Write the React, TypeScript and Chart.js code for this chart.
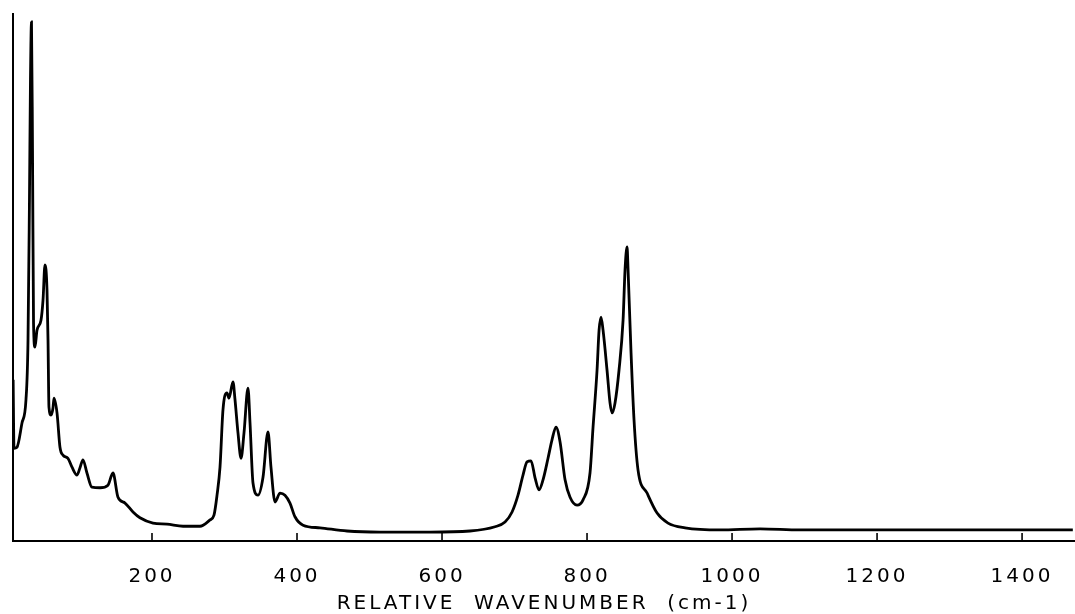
import React, { useEffect, useRef } from "react";
import { Chart, registerables } from "chart.js";

Chart.register(...registerables);

// Relative wavenumber (cm-1)
const wavenumbers = [
  8.5, 9.7, 13.8, 20.7, 26.2, 29.0, 31.0, 32.4, 33.8, 35.2, 36.6, 38.6, 41.4, 46.9, 49.7,
  52.4, 55.2, 56.6, 57.9, 60.7, 63.4, 64.8, 69.0, 73.1, 77.2, 84.1, 89.7, 96.6, 100.7,
  104.8, 110.3, 117.2, 128.3, 139.3, 146.2, 153.1, 162.8, 173.8, 183.4, 201.4, 220.7,
  242.8, 266.2, 280.0, 285.5, 289.7, 293.8, 297.9, 303.4, 306.2, 311.7, 314.5, 318.6,
  322.8, 326.9, 332.4, 335.2, 339.3, 346.2, 353.1, 360.0, 364.1, 369.7, 376.6, 383.4,
  390.3, 397.2, 408.3, 431.7, 469.0, 514.5, 583.4, 638.6, 673.1, 686.9, 696.6, 704.8,
  711.7, 717.2, 722.8, 728.3, 733.8, 739.3, 746.2, 751.7, 757.2, 762.8, 769.7, 776.6,
  786.2, 794.5, 804.1, 808.3, 813.8, 816.6, 819.3, 822.1, 827.6, 831.7, 834.5, 838.6,
  844.1, 849.7, 852.4, 855.2, 856.6, 860.7, 864.8, 870.3, 882.8, 896.6, 911.7, 935.2,
  983.4, 1038.6, 1093.8, 1231.7, 1369.7, 1470,
];

// Relative intensity (arbitrary units)
const intensities = [
  30.6, 17.6, 17.8, 22.4, 26.8, 38.1, 64.7, 87.5, 98.5, 74.2, 41.4, 36.8, 40.0, 41.9, 45.7,
  52.4, 47.6, 38.1, 25.4, 23.9, 25.2, 27.1, 24.3, 17.8, 16.3, 15.7, 14.0, 12.5, 13.9,
  15.4, 12.9, 10.2, 10.1, 10.6, 12.9, 8.3, 7.2, 5.5, 4.4, 3.4, 3.2,
  2.8, 2.8, 4.0, 4.9, 8.7, 14.0, 24.9, 28.1, 27.1, 30.2, 26.8, 20.5,
  15.7, 20.5, 29.0, 22.4, 11.0, 8.7, 12.1, 20.7, 14.0, 7.4, 9.1, 8.7,
  7.2, 4.6, 3.0, 2.5, 1.9, 1.7, 1.7, 1.9, 2.7, 3.6, 5.5, 8.7,
  12.5, 15.0, 15.2, 12.0, 9.7, 11.6, 15.7, 19.2, 21.6, 18.8, 11.6, 8.3,
  6.8, 7.8, 12.9, 21.6, 32.4, 40.0, 42.5, 40.0, 32.4, 26.2, 24.3, 26.2,
  32.4, 41.9, 51.4, 55.8, 51.4, 35.7, 23.0, 13.5, 9.1, 5.3, 3.4, 2.5,
  2.1, 2.3, 2.1, 2.1, 2.1, 2.1,
];

const tickValues = [200, 400, 600, 800, 1000, 1200, 1400];
const axisTitle = "RELATIVE  WAVENUMBER  (cm-1)";
const xMin = 8.3;
const xMax = 1473;
const yMin = 0;
const yMax = 100;

export default function App() {
  const canvasRef = useRef<HTMLCanvasElement>(null);

  useEffect(() => {
    if (!canvasRef.current) return;

    const letterSpacingPlugin = {
      id: "letterSpacing",
      beforeUpdate(chart: any) {
        chart.ctx.letterSpacing = "3px";
      },
      beforeDraw(chart: any) {
        chart.ctx.letterSpacing = "3px";
      },
    };

    const innerTicksPlugin = {
      id: "innerTicks",
      afterDatasetsDraw(chart: any) {
        const s = chart.scales.x;
        const ctx = chart.ctx;
        ctx.save();
        ctx.strokeStyle = "#000";
        ctx.lineWidth = 1.6;
        s.ticks.forEach((t: any) => {
          const px = s.getPixelForValue(t.value);
          ctx.beginPath();
          ctx.moveTo(px, s.top);
          ctx.lineTo(px, s.top - 8);
          ctx.stroke();
        });
        ctx.restore();
      },
    };

    const points = wavenumbers.map((w, i) => ({ x: w, y: intensities[i] }));

    const chart = new Chart(canvasRef.current, {
      type: "line",
      data: {
        datasets: [
          {
            data: points,
            borderColor: "#000",
            borderWidth: 2.8,
            pointRadius: 0,
            fill: false,
            cubicInterpolationMode: "monotone",
          },
        ],
      },
      options: {
        animation: false,
        responsive: true,
        maintainAspectRatio: false,
        layout: { padding: { left: 13, top: 14, right: 0, bottom: 0 } },
        plugins: {
          legend: { display: false },
          tooltip: { enabled: false },
        },
        scales: {
          x: {
            type: "linear",
            min: xMin,
            max: xMax,
            afterBuildTicks: (scale: any) => {
              scale.ticks = tickValues.map((v) => ({ value: v }));
            },
            grid: {
              display: true,
              drawOnChartArea: false,
              drawTicks: true,
              tickLength: 26,
              tickColor: "rgba(0,0,0,0)",
            },
            border: { display: true, color: "#000", width: 2 },
            ticks: {
              color: "#000",
              padding: 0,
              maxRotation: 0,
              autoSkip: false,
              callback: (v: any) => String(v),
              font: { family: "'DejaVu Sans'", size: 20, lineHeight: 1.0 },
            },
            title: {
              display: true,
              text: axisTitle,
              color: "#000",
              padding: { top: 7, bottom: 0 },
              font: { family: "'DejaVu Sans'", size: 20, lineHeight: 1.0 },
            },
          },
          y: {
            type: "linear",
            min: yMin,
            max: yMax,
            grid: { display: false, drawTicks: false },
            border: { display: true, color: "#000", width: 2 },
            ticks: { display: false },
          },
        },
      },
      plugins: [letterSpacingPlugin, innerTicksPlugin],
    });

    return () => chart.destroy();
  }, []);

  return (
    <div style={{ position: "absolute", left: 0, top: 0, width: 1075, height: 614, background: "#fff" }}>
      <canvas ref={canvasRef} />
    </div>
  );
}
